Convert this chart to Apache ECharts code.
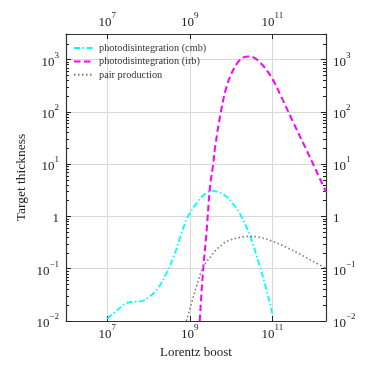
<!DOCTYPE html>
<html>
<head>
<meta charset="utf-8">
<script src="https://cdn.jsdelivr.net/npm/echarts@6/dist/echarts.min.js"></script>
<style>
  html, body { margin: 0; padding: 0; background: #fff; }
  #chart { width: 374px; height: 374px; }
</style>
</head>
<body>
<div id="chart"></div>
<script>
// photodisintegration on the CMB
const cmbBoost = [1e7, 1.12e7, 1.7e7, 2.7e7, 4.3e7, 6.8e7, 1.07e8, 1.7e8, 2.75e8, 4.4e8, 6.3e8, 9.1e8,
  1.45e9, 2.24e9, 3.5e9, 5e9, 7.8e9, 1.12e10, 1.62e10, 2.9e10, 5e10, 7.2e10, 9.5e10, 1e11];
const cmbThickness = [0.011, 0.012, 0.0158, 0.0214, 0.0234, 0.024, 0.0295, 0.0427, 0.083, 0.2, 0.48, 1.0,
  1.78, 2.63, 3.1, 2.9, 2.4, 1.74, 1.15, 0.42, 0.11, 0.04, 0.0166, 0.0141];

// photodisintegration on the IRB
const irbBoost = [1.74e9, 2.09e9, 2.57e9, 3.09e9, 3.72e9, 4.07e9, 5.37e9, 7.76e9, 1.23e10, 1.95e10,
  2.88e10, 5e10, 9.5e10, 1.82e11, 3.16e11, 6.76e11, 1.17e12, 2e12];
const irbThickness = [0.01, 0.089, 0.55, 3.7, 10.5, 20, 79, 302, 724, 1100,
  1150, 890, 460, 166, 65, 18.6, 7.4, 2.95];

// pair production
const pairBoost = [8.3e8, 1.1e9, 1.45e9, 2.09e9, 3.72e9, 4.9e9, 7.76e9, 1.62e10, 2.88e10, 5e10,
  1.05e11, 2.19e11, 4.68e11, 9.8e11, 2e12];
const pairThickness = [0.01, 0.022, 0.0457, 0.105, 0.2, 0.251, 0.331, 0.398, 0.417, 0.398,
  0.331, 0.257, 0.19, 0.138, 0.102];

const seriesNames = ['photodisintegration (cmb)', 'photodisintegration (irb)', 'pair production'];
const xTicks = [1e7, 1e9, 1e11];
const yTicks = [0.01, 0.1, 1, 10, 100, 1000];
const yMinorTicks = [];
yTicks.forEach(function (d) {
  for (let k = 2; k <= 9; k++) {
    if (d * k <= 3100) yMinorTicks.push(d * k);
  }
});

const FONT = 'Liberation Serif';

function powLabel(v) {
  const e = Math.round(Math.log10(v));
  if (e === 0) return '{b|1}';
  return '{b|10}{s|' + (e < 0 ? '\u2212' + (-e) : e) + '}';
}

const rich = {
  b: { fontFamily: FONT, fontSize: 13, color: '#222', lineHeight: 18, verticalAlign: 'bottom' },
  s: { fontFamily: FONT, fontSize: 9, color: '#222', lineHeight: 18, verticalAlign: 'top' },
};

function pairs(xs, ys) {
  return xs.map(function (x, i) { return [x, ys[i]]; });
}

function xAxis(pos, grid) {
  return {
    type: 'log',
    position: pos,
    min: 1e6,
    max: 2e12,
    axisLine: { show: true, lineStyle: { color: '#333', width: 1.2 } },
    axisTick: { show: true, inside: true, length: 5, customValues: xTicks, lineStyle: { color: '#222' } },
    axisLabel: { show: true, customValues: xTicks, margin: pos === 'bottom' ? 2 : 5, formatter: powLabel, rich: rich },
    splitLine: { show: grid, lineStyle: { color: '#d8d8d8', width: 1 } },
    minorTick: { show: false },
  };
}

function yAxis(pos, major) {
  return {
    type: 'log',
    position: pos,
    min: 0.01,
    max: 3100,
    axisLine: { show: major, lineStyle: { color: '#333', width: 1.2 } },
    axisTick: {
      show: true, inside: true, length: major ? 5 : 3,
      customValues: major ? yTicks : yMinorTicks, lineStyle: { color: '#222' },
    },
    axisLabel: {
      show: major, customValues: yTicks, margin: 7, formatter: powLabel, rich: rich,
    },
    splitLine: { show: major && pos === 'left', lineStyle: { color: '#d8d8d8', width: 1 } },
  };
}

const chart = echarts.init(document.getElementById('chart'));
const option = {
  animation: false,
  backgroundColor: '#fff',
  grid: { left: 66, right: 48, top: 34, bottom: 53 },
  legend: {
    orient: 'vertical',
    left: 73,
    top: 42.5,
    padding: 0,
    itemWidth: 20,
    itemHeight: 11,
    itemGap: 2.4,
    data: seriesNames,
    itemStyle: { opacity: 0 },
    textStyle: { fontFamily: FONT, fontSize: 10.3, color: '#333', lineHeight: 11 },
  },
  xAxis: [
    Object.assign(xAxis('bottom', true), {
      name: 'Lorentz boost',
      nameLocation: 'middle',
      nameGap: 23,
      nameTextStyle: { fontFamily: FONT, fontSize: 13, color: '#222' },
    }),
    xAxis('top', false),
  ],
  yAxis: [
    Object.assign(yAxis('left', true), {
      name: 'Target thickness',
      nameLocation: 'middle',
      nameGap: 38,
      nameMoveOverlap: false,
      nameTextStyle: { fontFamily: FONT, fontSize: 13.5, color: '#222' },
    }),
    yAxis('left', false),
    yAxis('right', true),
    yAxis('right', false),
  ],
  series: [
    {
      name: seriesNames[0],
      type: 'line',
      data: pairs(cmbBoost, cmbThickness),
      smooth: 0.35,
      symbol: 'none',
      lineStyle: { color: '#00ffff', width: 1.8, type: [6, 2.5, 1.5, 2.5] },
      itemStyle: { color: '#00ffff' },
    },
    {
      name: seriesNames[1],
      type: 'line',
      data: pairs(irbBoost, irbThickness),
      smooth: 0.35,
      symbol: 'none',
      lineStyle: { color: '#ff00ff', width: 2, type: [6.5, 3.5] },
      itemStyle: { color: '#ff00ff' },
    },
    {
      name: seriesNames[2],
      type: 'line',
      data: pairs(pairBoost, pairThickness),
      smooth: 0.35,
      symbol: 'none',
      lineStyle: { color: '#808080', width: 1.6, type: [1.6, 2.4] },
      itemStyle: { color: '#808080' },
    },
  ],
};
chart.setOption(option);
</script>
</body>
</html>
